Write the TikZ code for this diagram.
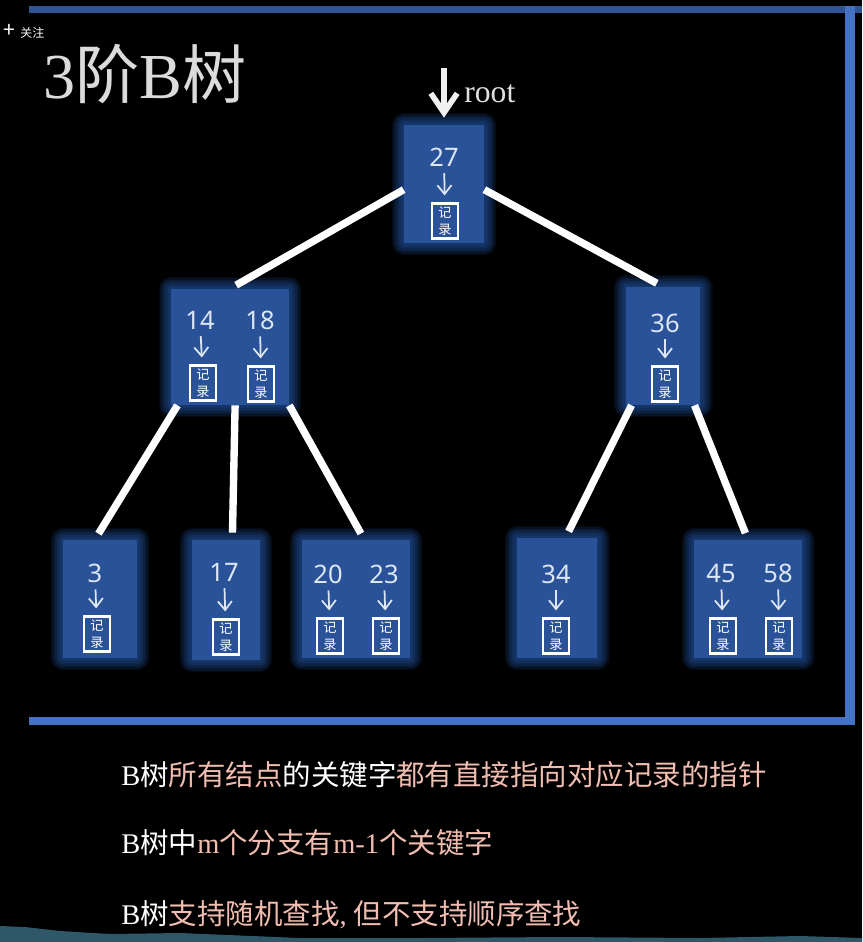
\documentclass[tikz,border=0pt]{standalone}
\usepackage{fontspec}
\usepackage{xcolor}
\usepackage{tikz}
\usetikzlibrary{arrows.meta}
\setmainfont{Liberation Serif}
\newfontfamily\cjk{Noto Sans CJK SC}
\newfontfamily\keyfont{Noto Sans}
\definecolor{nodeblue}{HTML}{2A5298}
\definecolor{glowblue}{HTML}{2A62C0}
\definecolor{framedark}{HTML}{2F5597}
\definecolor{framelight}{HTML}{4472C4}
\definecolor{salmon}{HTML}{F0BDB0}
\definecolor{keywhite}{HTML}{DCE6F5}
\definecolor{wave}{HTML}{2E5867}

\begin{document}
\begin{tikzpicture}[x=0.02cm, y=-0.02cm, shorten >=4pt,
		glow/.style={preaction={draw=glowblue,draw opacity=0.1,line join=round,line width=#1}},
		node_style/.style={rectangle,fill=nodeblue,inner sep=0pt,
			glow=0.50cm,glow=0.44cm,glow=0.38cm,glow=0.32cm,glow=0.26cm,glow=0.20cm,glow=0.14cm,glow=0.08cm},
		edge_style/.style={draw=white,line width=4.2pt},
		key_style/.style={text=keywhite,font=\keyfont\fontsize{14.5}{16}\selectfont,inner sep=0pt,outer sep=0.14cm},
		rec_style/.style={draw=white,line width=1.2pt,minimum width=0.52cm,minimum height=0.7cm,inner sep=0pt,
			align=center,text=white,font=\cjk\fontsize{7.5}{9.5}\selectfont},
		arrow_style/.style={draw=keywhite,line width=1pt,-{Straight Barb[length=5pt,width=8pt]}},
		line_style/.style={anchor=west,inner sep=0pt,text=white,font=\fontsize{16.2}{18}\selectfont}]

		\useasboundingbox (0,0) rectangle (862,942);
		\fill[black] (0,0) rectangle (862,942);
		\fill[wave] (0,926) -- (25,927) -- (60,931) -- (110,934) -- (180,933) -- (300,938) -- (420,938) -- (560,937) -- (700,938) -- (800,936) -- (862,938) -- (862,942) -- (0,942) -- cycle;

		% frame
		\fill[framedark] (29,6) rectangle (862,13);
		\fill[framelight] (845,6) rectangle (855,725);
		\fill[framelight] (29,717) rectangle (855,725);

		% heading
		\node[inner sep=0pt,anchor=west,text=white,font=\cjk\fontsize{6.8}{8}\selectfont] (follow) at (3,31) {{\fontsize{12}{12}\selectfont +}\hspace{3pt}关注};
		\node[inner sep=0pt,anchor=west,text=white!86!black,font=\fontsize{36.5}{40}\selectfont] (title) at (43,74) {3{\cjk 阶}B{\cjk 树}};

		% boxes
		\node[node_style,minimum width=1.6cm,minimum height=2.36cm] (n27) at (444,184) {};
		\node[node_style,minimum width=2.36cm,minimum height=2.32cm] (n1418) at (230,347) {};
		\node[node_style,minimum width=1.48cm,minimum height=2.36cm] (n36) at (663,346) {};
		\node[node_style,minimum width=1.48cm,minimum height=2.36cm] (n3) at (100,599) {};
		\node[node_style,minimum width=1.36cm,minimum height=2.4cm] (n17) at (226,600) {};
		\node[node_style,minimum width=2.16cm,minimum height=2.36cm] (n2023) at (356,599) {};
		\node[node_style,minimum width=1.6cm,minimum height=2.4cm] (n34) at (557,598) {};
		\node[node_style,minimum width=2.16cm,minimum height=2.36cm] (n4558) at (748,599) {};

		% root pointer
		\coordinate (rootstart) at (444,68);
		\draw[draw=white!94!black,line width=3.2pt,-{Straight Barb[length=11pt,width=15pt]}] (rootstart) -- (n27.north);
		\node[inner sep=0pt,anchor=west,text=white!88!black,font=\fontsize{18}{20}\selectfont] (rootlabel) at (464,94) {root};

		% keys
		\node[key_style] (k27) at (444,157) {27};
		\node[key_style] (k14) at (200,320) {14};
		\node[key_style] (k18) at (260,320) {18};
		\node[key_style] (k36) at (665,323) {36};
		\node[key_style] (k3) at (95,573) {3};
		\node[key_style] (k17) at (224,572) {17};
		\node[key_style] (k20) at (328,574) {20};
		\node[key_style] (k23) at (384,574) {23};
		\node[key_style] (k34) at (556,574) {34};
		\node[key_style] (k45) at (721,573) {45};
		\node[key_style] (k58) at (778,573) {58};

		% records
		\node[rec_style] (r27) at (445,221) {记\\录};
		\node[rec_style] (r14) at (203,383) {记\\录};
		\node[rec_style] (r18) at (261,384) {记\\录};
		\node[rec_style] (r36) at (665,384) {记\\录};
		\node[rec_style] (r3) at (97,634) {记\\录};
		\node[rec_style] (r17) at (226,637) {记\\录};
		\node[rec_style] (r20) at (330,636) {记\\录};
		\node[rec_style] (r23) at (386,636) {记\\录};
		\node[rec_style] (r34) at (556,636) {记\\录};
		\node[rec_style] (r45) at (723,636) {记\\录};
		\node[rec_style] (r58) at (779,636) {记\\录};

		\draw[arrow_style]  (k27) -- (r27);
		\draw[arrow_style]  (k14) -- (r14);
		\draw[arrow_style]  (k18) -- (r18);
		\draw[arrow_style]  (k36) -- (r36);
		\draw[arrow_style]  (k3) -- (r3);
		\draw[arrow_style]  (k17) -- (r17);
		\draw[arrow_style]  (k20) -- (r20);
		\draw[arrow_style]  (k23) -- (r23);
		\draw[arrow_style]  (k34) -- (r34);
		\draw[arrow_style]  (k45) -- (r45);
		\draw[arrow_style]  (k58) -- (r58);

		% tree edges
		\draw[edge_style]  (n27.188) -- (n1418.north);
		\draw[edge_style]  (n27.-8) -- (n36.north);
		\draw[edge_style]  (n1418.228) -- (n3.95);
		\draw[edge_style]  (n1418.-85) -- (n17.84);
		\draw[edge_style]  (n1418.south east) -- (n2023.82);
		\draw[edge_style]  (n36.242) -- (n34.82);
		\draw[edge_style]  (n36.-62) -- (n4558.north);

		% notes
		\node[line_style] (line1) at (121,775) {B{\cjk 树\textcolor{salmon}{所有结点}的关键字\textcolor{salmon}{都有直接指向对应记录的指针}}};
		\node[line_style] (line2) at (121,843) {B{\cjk 树中}\textcolor{salmon}{m{\cjk 个分支有}m-1{\cjk 个关键字}}};
		\node[line_style] (line3) at (121,915) {B{\cjk 树}\textcolor{salmon}{{\cjk 支持随机查找},\hspace{4pt}{\cjk 但不支持顺序查找}}};

\end{tikzpicture}
\end{document}
